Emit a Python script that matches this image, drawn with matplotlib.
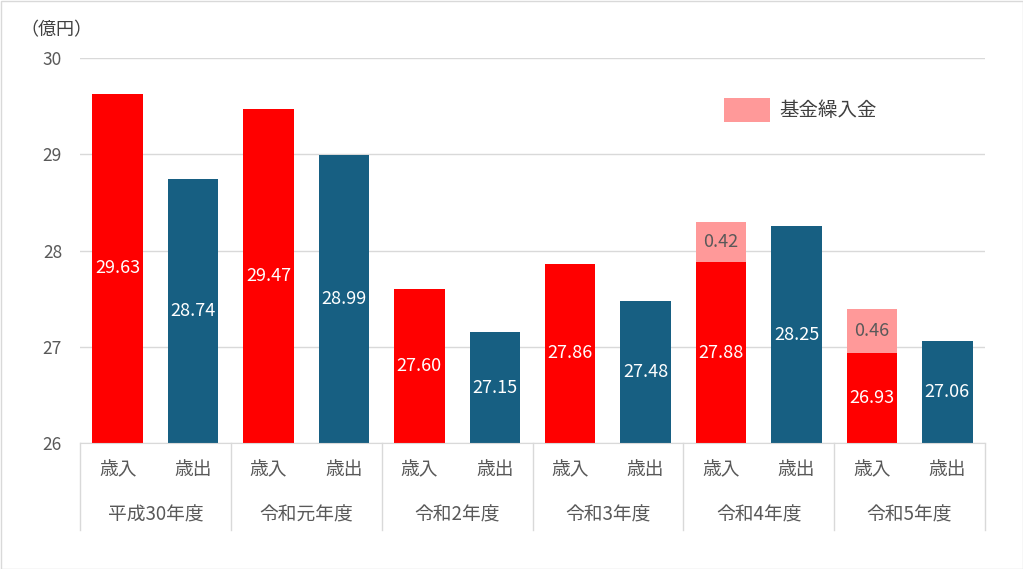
import matplotlib
matplotlib.use("Agg")
import matplotlib.pyplot as plt
import numpy as np

plt.rcParams["font.family"] = ["Noto Sans CJK JP", "DejaVu Sans"]

years = ["平成30年度", "令和元年度", "令和2年度", "令和3年度", "令和4年度", "令和5年度"]
kinds = ["歳入", "歳出"]
revenue = [29.63, 29.47, 27.60, 27.86, 27.88, 26.93]
expenditure = [28.74, 28.99, 27.15, 27.48, 28.25, 27.06]
fund_transfer = [0, 0, 0, 0, 0.42, 0.46]

RED = "#FF0000"
BLUE = "#175F82"
PINK = "#FF9999"
GRAY = "#595959"
LINE = "#D9D9D9"
BASE = 26

fig = plt.figure(figsize=(10.23, 5.69), dpi=100)
ax = fig.add_axes([80 / 1023, 126 / 569, 905 / 1023, 385 / 569])

n = len(years)
x_rev = np.arange(n) * 2
x_exp = x_rev + 1
w = 0.67

rev_h = [v - BASE for v in revenue]
exp_h = [v - BASE for v in expenditure]
ax.bar(x_rev, rev_h, w, bottom=BASE, color=RED, zorder=2)
ax.bar(x_exp, exp_h, w, bottom=BASE, color=BLUE, zorder=2)
fund_x = [x for x, f in zip(x_rev, fund_transfer) if f > 0]
fund_v = [f for f in fund_transfer if f > 0]
fund_b = [r for r, f in zip(revenue, fund_transfer) if f > 0]
ax.bar(fund_x, fund_v, w, bottom=fund_b, color=PINK, zorder=2, label="基金繰入金")

for x, v in zip(x_rev, revenue):
    ax.text(x, (BASE + v) / 2, f"{v:.2f}", ha="center", va="center", color="white", fontsize=13, zorder=3)
for x, v in zip(x_exp, expenditure):
    ax.text(x, (BASE + v) / 2, f"{v:.2f}", ha="center", va="center", color="white", fontsize=13, zorder=3)
for x, b, f in zip(fund_x, fund_b, fund_v):
    ax.text(x, b + f / 2, f"{f:.2f}", ha="center", va="center", color=GRAY, fontsize=13, zorder=3)

ax.set_xlim(-0.5, 2 * n - 0.5)
ax.set_ylim(26, 30)
ax.set_yticks([26, 27, 28, 29, 30])
ax.tick_params(axis="y", length=0, labelsize=12.5, labelcolor=GRAY, pad=13)
ax.set_xticks([])
ax.grid(axis="y", color=LINE, linewidth=1, zorder=0)
for s in ["top", "right", "left"]:
    ax.spines[s].set_visible(False)
ax.spines["bottom"].set_color(LINE)

# category table under the axis
trans = ax.get_xaxis_transform()
sep_bottom = -(530 - 443) / 385
for i in range(n + 1):
    ax.plot([2 * i - 0.5] * 2, [0, sep_bottom], transform=trans, color=LINE, lw=1, clip_on=False)
for i in range(n):
    ax.text(x_rev[i], -(470 - 443) / 385, kinds[0], transform=trans, ha="center", va="center",
            fontsize=13.5, color=GRAY)
    ax.text(x_exp[i], -(470 - 443) / 385, kinds[1], transform=trans, ha="center", va="center",
            fontsize=13.5, color=GRAY)
    ax.text(x_rev[i] + 0.5, -(515 - 443) / 385, years[i], transform=trans, ha="center", va="center",
            fontsize=13.5, color=GRAY)

leg = ax.legend(loc="upper left", bbox_to_anchor=(636 / 905, 1 - 32 / 385), frameon=False,
                fontsize=14, handlelength=2.4, handleheight=1.55, handletextpad=0.45,
                borderaxespad=0)
for t in leg.get_texts():
    t.set_color("#404040")

fig.text(20 / 1023, 1 - 30 / 569, "（億円）", ha="left", va="center", fontsize=13, color="#404040")

fig.patches.append(plt.Rectangle((0.5 / 1023, 0.5 / 569), 1 - 1 / 1023, 1 - 1 / 569,
                                 transform=fig.transFigure, fill=False, edgecolor=LINE, lw=1))

fig.savefig("out.png", dpi=100)
